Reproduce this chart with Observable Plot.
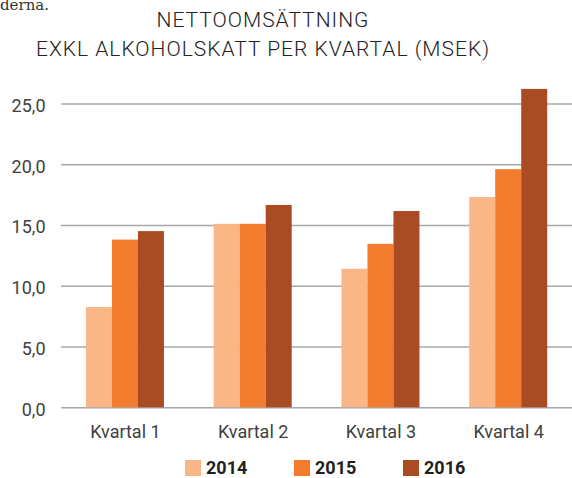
<!DOCTYPE html>
<html>
<head>
<meta charset="utf-8">
<script src="https://cdn.jsdelivr.net/npm/d3@7"></script>
<script src="https://cdn.jsdelivr.net/npm/@observablehq/plot@0.6"></script>
<style>
  html, body { margin: 0; padding: 0; background: #fff; }
  body { position: relative; width: 572px; height: 478px; overflow: hidden; }
  #prev { position: absolute; left: 0; top: -5px; font: 15px "DejaVu Serif", serif; color: #333; line-height: 20px; }
  #title { position: absolute; left: 0; top: 6px; width: 526px; text-align: center;
           font-family: Roboto, sans-serif; font-weight: 300; letter-spacing: 1px; font-size: 21px; line-height: 29px; color: #222; }
  #grid, #bars { position: absolute; left: 0; top: 75px; }
  #legend { position: absolute; left: 185px; top: 458px; display: flex; font-family: Roboto, sans-serif;
            font-weight: 700; font-size: 18px; line-height: 20px; color: #231f20; }
  .item { width: 109px; display: flex; align-items: center; }
  .sw { width: 16px; height: 16px; margin-right: 5px; }
</style>
</head>
<body>
<div id="prev">derna.</div>
<div id="title">NETTOOMSÄTTNING<br>EXKL ALKOHOLSKATT PER KVARTAL (MSEK)</div>
<div id="grid"></div>
<div id="bars"></div>
<div id="legend"></div>
<script>
const quarters = ["Kvartal 1", "Kvartal 2", "Kvartal 3", "Kvartal 4"];
const years = ["2014", "2015", "2016"];
const v2014 = [8.25, 15.1, 11.4, 17.3];
const v2015 = [13.8, 15.1, 13.45, 19.6];
const v2016 = [14.5, 16.65, 16.15, 26.2];
const colors = ["#F9B787", "#F37B2D", "#A94C23"];
const yTicks = [0, 5, 10, 15, 20, 25];

const series = [v2014, v2015, v2016];
const rows = [];
quarters.forEach((q, i) => years.forEach((y, j) => rows.push({quarter: q, year: y, value: series[j][i]})));

const fmt = d => d.toFixed(1).replace(".", ",");

const common = {
  width: 572,
  height: 372,
  marginLeft: 61,
  marginRight: 0,
  marginTop: 28.5,
  marginBottom: 39.7
};

// Background layer: continuous gridlines and y-axis labels
const grid = Plot.plot({
  ...common,
  style: {fontFamily: "Roboto, sans-serif", fontSize: "18px", color: "#404040", background: "white", overflow: "visible"},
  x: {axis: null},
  y: {domain: [0, 25], axis: null},
  marks: [
    Plot.ruleY(yTicks, {stroke: "#A8A8A8", strokeWidth: 1.5}),
    Plot.text(yTicks, {y: d => d, text: fmt, frameAnchor: "left", textAnchor: "end", dx: -16, dy: 2, fill: "#404040", fontSize: 18})
  ]
});
document.getElementById("grid").appendChild(grid);

// Foreground layer: grouped bars and quarter labels
const bars = Plot.plot({
  ...common,
  style: {fontFamily: "Roboto, sans-serif", fontSize: "18px", color: "#404040", background: "transparent", overflow: "visible"},
  fx: {domain: quarters, paddingInner: 0.375, paddingOuter: 0.1875, round: false, label: null, tickSize: 0, tickPadding: 17},
  x: {domain: years, padding: 0, axis: null},
  y: {domain: [0, 25], axis: null},
  color: {domain: years, range: colors},
  marks: [
    Plot.barY(rows, {fx: "quarter", x: "year", y: "value", fill: "year", inset: 0})
  ]
});
document.getElementById("bars").appendChild(bars);

const legend = document.getElementById("legend");
years.forEach((y, i) => {
  const item = document.createElement("div");
  item.className = "item";
  const sw = document.createElement("div");
  sw.className = "sw";
  sw.style.background = colors[i];
  const t = document.createElement("span");
  t.textContent = y;
  item.appendChild(sw);
  item.appendChild(t);
  legend.appendChild(item);
});
</script>
</body>
</html>
